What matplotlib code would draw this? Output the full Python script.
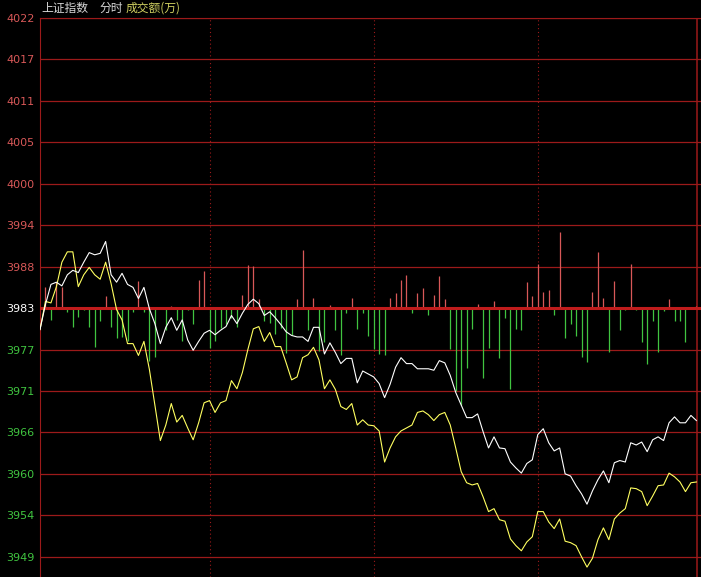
import numpy as np
import matplotlib
matplotlib.use("Agg")
import matplotlib.pyplot as plt

# prices, one point per 2 minutes
prev_close = 3983.3
grid_step = 5.6

white_line = [3980.4, 3983.8, 3986.5, 3986.8, 3986.3, 3987.8, 3988.4, 3988.1, 3989.5, 3990.8,
              3990.5, 3990.7, 3992.3, 3987.8, 3986.8, 3988.0, 3986.5, 3986.1, 3984.6, 3986.1,
              3983.2, 3981.2, 3978.5, 3980.7, 3982.0, 3980.3, 3981.7, 3979.0, 3977.6, 3978.8,
              3979.9, 3980.3, 3979.7, 3980.3, 3980.8, 3982.3, 3981.2, 3982.6, 3983.8, 3984.5,
              3983.9, 3982.3, 3982.8, 3982.0, 3981.1, 3980.1, 3979.6, 3979.4, 3979.4, 3978.8,
              3980.7, 3980.7, 3977.1, 3978.6, 3977.3, 3975.8, 3976.5, 3976.5, 3973.2, 3974.8,
              3974.4, 3974.0, 3973.1, 3971.2, 3973.0, 3975.3, 3976.6, 3975.8, 3975.8, 3975.1,
              3975.1, 3975.1, 3974.9, 3976.2, 3975.9, 3974.2, 3971.9, 3970.2, 3968.5, 3968.5,
              3969.0, 3966.6, 3964.4, 3965.9, 3964.4, 3964.3, 3962.5, 3961.7, 3961.0, 3962.3,
              3962.8, 3966.2, 3967.0, 3965.1, 3964.0, 3964.4, 3960.9, 3960.6, 3959.3, 3958.2,
              3956.8, 3958.6, 3960.1, 3961.3, 3959.7, 3962.4, 3962.7, 3962.5, 3965.1, 3964.8,
              3965.2, 3963.9, 3965.5, 3965.9, 3965.4, 3967.8, 3968.6, 3967.8, 3967.8, 3968.8,
              3968.1]

yellow_line = [3980.4, 3984.2, 3984.0, 3986.2, 3989.5, 3990.9, 3990.9, 3986.2, 3987.8, 3988.8,
               3987.8, 3987.2, 3989.5, 3986.6, 3983.1, 3981.7, 3978.5, 3978.5, 3976.9, 3978.8,
               3975.0, 3970.2, 3965.4, 3967.5, 3970.4, 3967.9, 3968.8, 3967.1, 3965.5, 3967.8,
               3970.5, 3970.8, 3969.2, 3970.5, 3970.8, 3973.5, 3972.4, 3974.6, 3977.7, 3980.5,
               3980.8, 3978.8, 3980.0, 3978.1, 3978.1, 3975.9, 3973.6, 3974.0, 3976.6, 3977.0,
               3978.0, 3976.3, 3972.4, 3973.6, 3972.3, 3970.0, 3969.6, 3970.4, 3967.5, 3968.2,
               3967.5, 3967.4, 3966.7, 3962.5, 3964.4, 3965.9, 3966.7, 3967.1, 3967.5, 3969.2,
               3969.4, 3968.9, 3968.1, 3968.9, 3969.2, 3967.5, 3964.4, 3961.2, 3959.7, 3959.4,
               3959.6, 3957.8, 3955.8, 3956.2, 3954.7, 3954.5, 3952.1, 3951.2, 3950.5, 3951.7,
               3952.4, 3955.8, 3955.8, 3954.4, 3953.5, 3954.8, 3951.8, 3951.6, 3951.2, 3949.7,
               3948.3, 3949.5, 3952.0, 3953.6, 3952.0, 3954.8, 3955.6, 3956.2, 3959.0, 3958.9,
               3958.5, 3956.6, 3957.9, 3959.3, 3959.4, 3961.0, 3960.5, 3959.8, 3958.5, 3959.7,
               3959.8]

# bars drawn from the 3983 line (up = red, down = green), points 1..120
bar_vals = [2.9, -1.6, 3.5, 2.8, -0.5, -2.5, -1.2, -0.2, -2.5, -5.2,
            -1.8, 1.6, -2.6, -4.0, -3.9, -4.4, -0.5, 3.6, -0.5, -7.2,
            -6.6, 0.2, -3.0, 0.3, -1.6, -4.5, -0.3, -2.1, 3.8, 5.0,
            -5.4, -4.5, -2.7, -2.1, -1.4, -2.5, 1.8, 5.8, 5.7, 1.2,
            -1.7, -2.0, -3.5, -2.7, -6.1, -3.7, 1.2, 7.8, -3.0, 1.4,
            -5.8, -4.6, 0.4, -3.0, -6.3, -0.6, 1.3, -2.8, -0.6, -3.8,
            -5.5, -6.2, -6.4, 1.4, 2.0, 3.8, 4.5, -0.7, 2.0, 2.7,
            -0.9, 1.8, 4.4, 1.2, -5.5, -11.2, -13.1, -8.1, -2.8, 0.6,
            -9.4, -5.4, 1.0, -6.7, -1.3, -10.9, -2.8, -3.0, 3.5, 1.7,
            6.0, 2.2, 2.4, -0.9, 10.3, -4.0, -2.1, -3.8, -6.6, -7.3,
            2.2, 7.6, 1.3, -6.0, 3.6, -3.0, -0.2, 5.9, -0.3, -4.6,
            -7.5, -1.8, -6.0, -0.4, 1.2, -1.7, -1.7, -4.6, 0.2, 0.3]

y_labels = ["3949", "3954", "3960", "3966", "3971", "3977", "3983",
            "3988", "3994", "4000", "4005", "4011", "4017", "4022"]
hour_marks = [31, 61, 91]

grid_red = "#9c1a1a"
up_red = "#d85858"
down_green = "#40c440"

fig = plt.figure(figsize=(7.01, 5.77), dpi=100, facecolor="black")
ax = fig.add_axes([40 / 701, 0, 661 / 701, 559 / 577])
ax.set_facecolor("black")

levels = prev_close + grid_step * np.arange(-6, 8)
for lv in levels:
    if lv == levels[6]:
        continue
    ax.axhline(lv, color=grid_red, lw=0.9, zorder=1)
for m in hour_marks:
    ax.axvline(m, color=grid_red, lw=0.8, ls=(0, (1, 2.5)), zorder=1)
ax.axvline(120.1, color=grid_red, lw=1.1, zorder=1)

t_bar = np.arange(1, len(bar_vals) + 1)
vals = np.array(bar_vals)
ax.vlines(t_bar[vals > 0], prev_close, prev_close + vals[vals > 0], colors=up_red, lw=0.9, zorder=2)
ax.vlines(t_bar[vals < 0], prev_close, prev_close + vals[vals < 0], colors=down_green, lw=0.9, zorder=2)
ax.axhline(prev_close, color="#c01c1c", lw=2.2, zorder=3)

t = np.arange(len(white_line))
ax.plot(t, yellow_line, color="#ffff60", lw=0.8, zorder=4)
ax.plot(t, white_line, color="white", lw=0.8, zorder=5)

ax.set_xlim(0, 661 / 5.47)
ax.set_ylim(prev_close - 6.489 * grid_step, levels[-1])
ax.set_xticks([])
ax.set_yticks(levels, y_labels)
ax.tick_params(axis="y", length=0, pad=4, labelsize=8)
for i, lab in enumerate(ax.get_yticklabels()):
    if i < 6:
        lab.set_color(down_green)
    elif i == 6:
        lab.set_color("white")
    else:
        lab.set_color(up_red)
for side in ["right", "bottom"]:
    ax.spines[side].set_visible(False)
ax.spines["left"].set_color(grid_red)
ax.spines["top"].set_color(grid_red)

cjk = ["Noto Sans CJK SC", "DejaVu Sans"]
ty = 1 - 8 / 577
fig.text(41 / 701, ty, "上证指数", color="#d8d8d8", fontsize=8.5, family=cjk, va="center")
fig.text(99 / 701, ty, "分时", color="#d8d8d8", fontsize=8.5, family=cjk, va="center")
fig.text(126 / 701, ty, "成交额(万)", color="#d0d060", fontsize=8.5, family=cjk, va="center")

fig.savefig("out.png", dpi=100, facecolor="black")
